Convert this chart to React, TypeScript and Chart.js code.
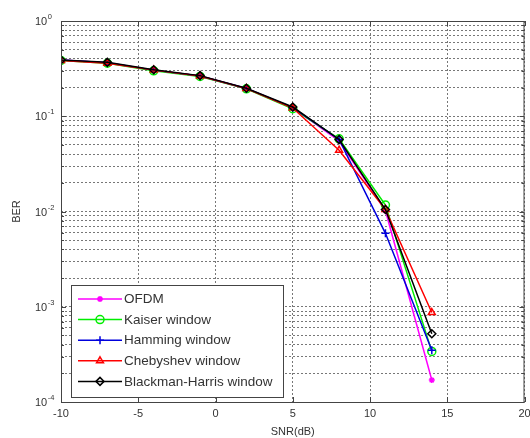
import React, { useEffect, useRef } from "react";
import { Chart, registerables } from "chart.js";
import { drawPoint } from "chart.js/helpers";

Chart.register(...registerables);

const snr = [-10, -7, -4, -1, 2, 5, 8, 11, 14];
const ofdm = [0.39, 0.365, 0.305, 0.265, 0.196, 0.123, 0.055, 0.0102, 0.00017];
const kaiser = [0.385, 0.36, 0.3, 0.262, 0.194, 0.12, 0.058, 0.0117, 0.00034];
const hamming = [0.39, 0.365, 0.305, 0.265, 0.196, 0.123, 0.057, 0.0059, 0.00035];
const chebyshev = [0.385, 0.36, 0.305, 0.265, 0.195, 0.122, 0.044, 0.0105, 0.00087];
const blackman = [0.39, 0.368, 0.308, 0.267, 0.197, 0.125, 0.057, 0.0105, 0.00052];

const seriesNames = ["OFDM", "Kaiser window", "Hamming window", "Chebyshev window", "Blackman-Harris window"];
const seriesColors = ["#ff00ff", "#00ee00", "#0000dd", "#ff0000", "#000000"];
const seriesMarkers = ["star", "circle", "cross", "triangle", "rectRot"];

const xTicks = [-10, -5, 0, 5, 10, 15, 20];
const yExponents = [0, -1, -2, -3, -4];
const yTickLabels = ["0", "-1", "-2", "-3", "-4"];
const xTitle = "SNR(dB)";
const yTitle = "BER";

const yGridValues: number[] = [];
for (let e = -4; e < 0; e++) {
  for (let m = 1; m <= 9; m++) yGridValues.push(m * Math.pow(10, e));
}
yGridValues.push(1);

const TEXT = "#333";
const FONT = "Liberation Sans, Arial, sans-serif";

const decorPlugin = {
  id: "decor",
  afterDatasetsDraw(chart: any) {
    const { ctx, chartArea: a, scales } = chart;
    const xs = scales.x;
    const ys = scales.y;
    ctx.save();
    // box
    ctx.strokeStyle = "#444";
    ctx.lineWidth = 1;
    ctx.setLineDash([]);
    ctx.strokeRect(a.left + 0.5, a.top + 0.5, a.right - a.left - 1, a.bottom - a.top);
    // inward ticks
    ctx.beginPath();
    xTicks.forEach((v) => {
      const px = Math.round(xs.getPixelForValue(v)) + 0.5;
      ctx.moveTo(px, a.bottom);
      ctx.lineTo(px, a.bottom - 5);
      ctx.moveTo(px, a.top);
      ctx.lineTo(px, a.top + 5);
    });
    yGridValues.forEach((v) => {
      const py = Math.round(ys.getPixelForValue(v)) + 0.5;
      const major = Math.abs(Math.log10(v) - Math.round(Math.log10(v))) < 1e-9;
      const len = major ? 5 : 3;
      ctx.moveTo(a.left, py);
      ctx.lineTo(a.left + len, py);
      ctx.moveTo(a.right, py);
      ctx.lineTo(a.right - len, py);
    });
    ctx.stroke();

    // legend
    const lx = 71, ly = 285, lw = 212, lh = 112;
    ctx.fillStyle = "#fff";
    ctx.fillRect(lx, ly, lw, lh);
    ctx.strokeStyle = "#444";
    ctx.strokeRect(lx + 0.5, ly + 0.5, lw, lh);
    const dss = chart.data.datasets;
    seriesNames.forEach((name, i) => {
      const ds = dss[i];
      const cy = 299 + i * 20.6;
      ctx.strokeStyle = ds.borderColor;
      ctx.lineWidth = 1.5;
      ctx.beginPath();
      ctx.moveTo(78, cy);
      ctx.lineTo(122, cy);
      ctx.stroke();
      ctx.fillStyle = ds.pointBackgroundColor;
      ctx.strokeStyle = ds.borderColor;
      ctx.lineWidth = 1.5;
      drawPoint(ctx, { pointStyle: ds.pointStyle, radius: ds.pointRadius, rotation: 0, borderWidth: 1.5 }, 100, cy);
      ctx.fillStyle = TEXT;
      ctx.font = `13.5px ${FONT}`;
      ctx.textAlign = "left";
      ctx.textBaseline = "middle";
      ctx.fillText(name, 124, cy + 0.5);
    });

    // x tick labels
    ctx.fillStyle = TEXT;
    ctx.font = `11px ${FONT}`;
    ctx.textAlign = "center";
    ctx.textBaseline = "middle";
    xTicks.forEach((v) => {
      ctx.fillText(String(v), xs.getPixelForValue(v), 414);
    });
    // y tick labels
    yExponents.forEach((e, i) => {
      const py = ys.getPixelForValue(Math.pow(10, e));
      ctx.font = `11px ${FONT}`;
      ctx.textAlign = "left";
      ctx.textBaseline = "middle";
      ctx.fillText("10", 35, py + 1);
      const w = ctx.measureText("10").width;
      ctx.font = `7.5px ${FONT}`;
      ctx.fillText(yTickLabels[i], 35 + w + 0.5, py - 4);
    });
    // titles
    ctx.font = `11px ${FONT}`;
    ctx.textAlign = "center";
    ctx.fillText(xTitle, (a.left + a.right) / 2, 432);
    ctx.save();
    ctx.translate(17, (a.top + a.bottom) / 2);
    ctx.rotate(-Math.PI / 2);
    ctx.fillText(yTitle, 0, 0);
    ctx.restore();
    ctx.restore();
  },
};

export default function App() {
  const ref = useRef<HTMLCanvasElement | null>(null);
  useEffect(() => {
    if (!ref.current) return;
    const all = [ofdm, kaiser, hamming, chebyshev, blackman];
    const chart = new Chart(ref.current, {
      type: "line",
      data: {
        datasets: all.map((vals, i) => ({
          label: seriesNames[i],
          data: snr.map((x, j) => ({ x, y: vals[j] })),
          borderColor: seriesColors[i],
          backgroundColor: seriesColors[i],
          pointBackgroundColor: i === 0 ? seriesColors[i] : "rgba(0,0,0,0)",
          pointBorderColor: seriesColors[i],
          pointStyle: seriesMarkers[i] as any,
          pointRadius: i === 0 ? 3 : 4,
          pointBorderWidth: 1.5,
          borderWidth: 1.5,
          tension: 0,
          fill: false,
          clip: 0,
          order: all.length - 1 - i,
        })),
      },
      options: {
        animation: false,
        responsive: false,
        devicePixelRatio: 1,
        layout: { padding: { left: 0, right: 4, top: 21, bottom: 0 } },
        plugins: { legend: { display: false }, tooltip: { enabled: false } },
        scales: {
          x: {
            type: "linear",
            min: -10,
            max: 20,
            afterBuildTicks: (s: any) => {
              s.ticks = xTicks.map((v) => ({ value: v }));
            },
            afterFit: (s: any) => {
              s.height = 36;
            },
            ticks: { display: false },
            grid: { color: "#777", lineWidth: 1, drawTicks: false },
            border: { display: false, dash: [2, 2] },
          },
          y: {
            type: "logarithmic",
            min: 1e-4,
            max: 1,
            afterBuildTicks: (s: any) => {
              s.ticks = yGridValues.map((v) => ({ value: v }));
            },
            afterFit: (s: any) => {
              s.width = 61;
            },
            ticks: { display: false },
            grid: { color: "#777", lineWidth: 1, drawTicks: false },
            border: { display: false, dash: [2, 2] },
          },
        },
      },
      plugins: [decorPlugin],
    });
    return () => chart.destroy();
  }, []);
  return (
    <div style={{ position: "absolute", left: 0, top: 0, width: 530, height: 438, background: "#fff" }}>
      <canvas ref={ref} width={530} height={438} />
    </div>
  );
}
